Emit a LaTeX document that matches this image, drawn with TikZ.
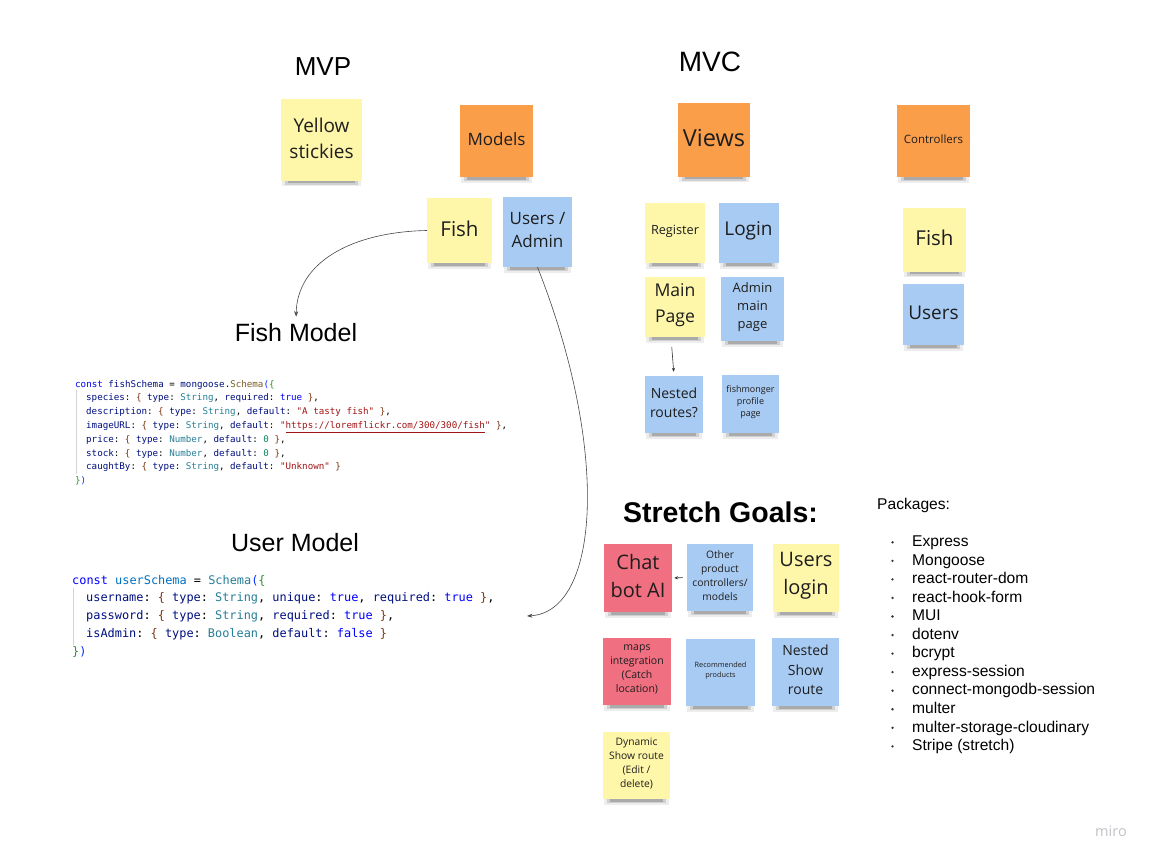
\documentclass[tikz,border=0pt]{standalone}
\usepackage{fontspec}
\setmainfont{Open Sans}
\setmonofont{DejaVu Sans Mono}
\newfontfamily\arialf{Liberation Sans}
\newfontfamily\osans{Open Sans}
\usetikzlibrary{arrows.meta}
\definecolor{stY}{HTML}{FEF6A9}
\definecolor{stO}{HTML}{FB9E4A}
\definecolor{stB}{HTML}{A8CBF3}
\definecolor{stR}{HTML}{F06F80}
\definecolor{stText}{HTML}{1E1E1E}
\definecolor{cKw}{HTML}{0000FF}
\definecolor{cVr}{HTML}{001080}
\definecolor{cFn}{HTML}{795E26}
\definecolor{cTy}{HTML}{267F99}
\definecolor{cSt}{HTML}{A31515}
\definecolor{cNm}{HTML}{098658}
\definecolor{cBa}{HTML}{0431FA}
\definecolor{cBb}{HTML}{319331}
\definecolor{cBc}{HTML}{7B3814}
\definecolor{cUv}{HTML}{0070C1}
\definecolor{guideC}{HTML}{D4D4D4}
\definecolor{miroC}{HTML}{C2C2C8}
\newcommand\stfont[2]{\osans\fontsize{#1}{#2}\selectfont}
\newcommand\tifont[2]{\arialf\fontsize{#1}{#2}\selectfont}
\newcommand\cdfont[2]{\ttfamily\fontsize{#1}{#2}\selectfont}
\newcommand\ckw[1]{\textcolor{cKw}{#1}}
\newcommand\cvr[1]{\textcolor{cVr}{#1}}
\newcommand\cfn[1]{\textcolor{cFn}{#1}}
\newcommand\cty[1]{\textcolor{cTy}{#1}}
\newcommand\cst[1]{\textcolor{cSt}{#1}}
\newcommand\cnm[1]{\textcolor{cNm}{#1}}
\newcommand\cba[1]{\textcolor{cBa}{#1}}
\newcommand\cbb[1]{\textcolor{cBb}{#1}}
\newcommand\cbc[1]{\textcolor{cBc}{#1}}
\newcommand\cuv[1]{\textcolor{cUv}{#1}}
% sticky note: name, cx, cy, w, h, colour, font, text
\newcommand\stickynote[8]{%
  \fill[black,opacity=.07] ({#2-#4/2+1},{#3+#5/2-3}) rectangle ({#2+#4/2-1},{#3+#5/2+5.5});
  \fill[black,opacity=.12] ({#2-#4/2+4},{#3+#5/2-3}) rectangle ({#2+#4/2-4},{#3+#5/2+4});
  \fill[black,opacity=.18] ({#2-#4/2+7},{#3+#5/2-3}) rectangle ({#2+#4/2-7},{#3+#5/2+2.5});
  \node[stickybox, fill=#6, minimum width=#4pt, minimum height=#5pt] (#1) at (#2,#3) {};
  \node[stickytext, font=#7] (#1-t) at ([yshift=2pt]#1.center) {#8};%
}
\tikzset{
  stickybox/.style={rectangle, inner sep=0pt},
  stickytext/.style={inner sep=1pt, align=center, text=stText},
  title/.style={inner sep=0pt, anchor=base, text=black},
  codeline/.style={inner sep=0pt, anchor=base west},
  pkg/.style={inner sep=0pt, anchor=base west, font=\tifont{15.6}{18}, text=black},
  conn/.style={draw=black!72, line width=0.6pt, -{Stealth[length=5.5pt,width=4pt]}},
  shortconn/.style={draw=black!80, line width=0.6pt, -{Stealth[length=4pt,width=3.2pt]}},
  guide/.style={draw=guideC, line width=0.7pt}
}
\begin{document}
\begin{tikzpicture}[x=1pt,y=-1pt]
\fill[white] (0,0) rectangle (1156,864);
\useasboundingbox (0,0) rectangle (1156,864);

% titles
\node[title, font=\tifont{26}{30}] (mvp) at (323,75.5) {MVP};
\node[title, font=\tifont{28}{32}] (mvc) at (710,72) {MVC};
\node[title, font=\tifont{25}{29}] (fishmodel) at (296,341) {Fish Model};
\node[title, font=\tifont{25}{29}] (usermodel) at (295,551) {User Model};
\node[title, font=\tifont{28.5}{32}\bfseries] (stretch) at (720.5,522) {Stretch Goals:};

% sticky notes
\stickynote{yst}{321.5}{140}{81}{81}{stY}{\stfont{19}{26}}{Yellow\\stickies}
\stickynote{models}{496.5}{141}{73}{72}{stO}{\stfont{17}{23}}{Models}
\stickynote{fish}{459.5}{230.5}{65}{65}{stY}{\stfont{20.5}{27}}{Fish}
\stickynote{usad}{537.5}{232}{69}{70}{stB}{\stfont{17}{23}}{Users /\\Admin}
\stickynote{views}{714}{140}{72}{73}{stO}{\stfont{23.5}{30}}{Views}
\stickynote{ctrls}{933.5}{141}{73}{72}{stO}{\stfont{11.5}{15}}{Controllers}
\stickynote{cfish}{934.5}{239.5}{63}{64}{stY}{\stfont{20.5}{27}}{Fish}
\stickynote{cusers}{933.5}{314.5}{61}{61}{stB}{\stfont{19}{26}}{Users}
\stickynote{register}{675}{233}{60}{60}{stY}{\stfont{12.7}{17}}{Register}
\stickynote{login}{748.5}{233}{60}{60}{stB}{\stfont{19}{26}}{Login}
\stickynote{mainpage}{675}{307}{60}{60}{stY}{\stfont{17.6}{25.5}}{Main\\Page}
\stickynote{adminmain}{752.5}{309}{63}{64}{stB}{\stfont{13}{18.3}}{Admin\\main\\page}
\stickynote{nested}{674}{404.5}{58}{57}{stB}{\stfont{14}{19}}{Nested\\routes?}
\stickynote{fishmonger}{750.5}{404}{57}{58}{stB}{\stfont{9}{12.3}}{fishmonger\\profile\\page}
\stickynote{chat}{638}{578}{68}{68}{stR}{\stfont{20}{28}}{Chat\\bot AI}
\stickynote{other}{720}{577.5}{66}{67}{stB}{\stfont{10.3}{14}}{Other\\product\\controllers/\\models}
\stickynote{userslogin}{806}{578}{66}{68}{stY}{\stfont{20}{28}}{Users\\login}
\stickynote{maps}{637}{671.5}{68}{67}{stR}{\stfont{10.5}{14}}{maps\\integration\\(Catch\\location)}
\stickynote{recommended}{720.5}{672.5}{69}{67}{stB}{\stfont{7.3}{10}}{Recommended\\products}
\stickynote{nestedshow}{805.5}{672}{67}{68}{stB}{\stfont{14}{19.3}}{Nested\\Show\\route}
\stickynote{dynamic}{636.5}{765.5}{67}{67}{stY}{\stfont{10.3}{14}}{Dynamic\\Show route\\(Edit /\\delete)}

% fish schema code
\draw[guide] (76,390) -- (76,474);
\node[codeline, font=\cdfont{9.2}{11}] (f1) at (75,387) {\ckw{const} \cvr{fishSchema} = \cvr{mongoose}.\cfn{Schema}\cba{(}\cbb{\{}};
\node[codeline, font=\cdfont{9.2}{11}] (f2) at (86,400.8) {\cvr{species}: \cbc{\{} \cvr{type}: \cty{String}, \cvr{required}: \ckw{true} \cbc{\}},};
\node[codeline, font=\cdfont{9.2}{11}] (f3) at (86,414.6) {\cvr{description}: \cbc{\{} \cvr{type}: \cty{String}, \cvr{default}: \cst{"A tasty fish"} \cbc{\}},};
\node[codeline, font=\cdfont{9.2}{11}] (f4) at (86,428.4) {\cvr{imageURL}: \cbc{\{} \cvr{type}: \cty{String}, \cvr{default}: \cst{"\underline{https://loremflickr.com/300/300/fish}"} \cbc{\}},};
\node[codeline, font=\cdfont{9.2}{11}] (f5) at (86,442.2) {\cvr{price}: \cbc{\{} \cvr{type}: \cty{Number}, \cvr{default}: \cnm{0} \cbc{\}},};
\node[codeline, font=\cdfont{9.2}{11}] (f6) at (86,456) {\cvr{stock}: \cbc{\{} \cvr{type}: \cty{Number}, \cvr{default}: \cnm{0} \cbc{\}},};
\node[codeline, font=\cdfont{9.2}{11}] (f7) at (86,469.8) {\cvr{caughtBy}: \cbc{\{} \cvr{type}: \cty{String}, \cvr{default}: \cst{"Unknown"} \cbc{\}}};
\node[codeline, font=\cdfont{9.2}{11}] (f8) at (75,483.6) {\cbb{\}}\cba{)}};

% user schema code
\draw[guide] (73,588) -- (73,645);
\node[codeline, font=\cdfont{11.9}{14}] (u1) at (72,584) {\ckw{const} \cuv{userSchema} = \cty{Schema}\cba{(}\cbb{\{}};
\node[codeline, font=\cdfont{11.9}{14}] (u2) at (86,601.8) {\cvr{username}: \cbc{\{} \cvr{type}: \cty{String}, \cvr{unique}: \ckw{true}, \cvr{required}: \ckw{true} \cbc{\}},};
\node[codeline, font=\cdfont{11.9}{14}] (u3) at (86,619.6) {\cvr{password}: \cbc{\{} \cvr{type}: \cty{String}, \cvr{required}: \ckw{true} \cbc{\}},};
\node[codeline, font=\cdfont{11.9}{14}] (u4) at (86,637.4) {\cvr{isAdmin}: \cbc{\{} \cvr{type}: \cty{Boolean}, \cvr{default}: \ckw{false} \cbc{\}}};
\node[codeline, font=\cdfont{11.9}{14}] (u5) at (72,655.2) {\cbb{\}}\cba{)}};

% packages
\node[pkg] (pkgs) at (877,509.5) {Packages:};
\foreach \t [count=\i from 0] in {Express,Mongoose,react-router-dom,react-hook-form,MUI,dotenv,bcrypt,express-session,connect-mongodb-session,multer,multer-storage-cloudinary,Stripe (stretch)}{
  \node[pkg] (pk\i) at (912,{546.5+18.55*\i}) {\t};
  \fill[black!80] (892.5,{542.3+18.55*\i}) circle (1.3);
}

% connectors
\coordinate (uend) at (527,616);
\draw[conn, shorten >=6pt] (fish.west) .. controls (352,232) and (297,262) .. (fishmodel.north);
\draw[conn] (usad.south) .. controls (610,450) and (600,612) .. (uend);
\draw[shortconn, shorten <=10pt, shorten >=4pt] ([xshift=-4pt]mainpage.south) -- (nested.north);
\draw[shortconn, shorten <=4pt, shorten >=2pt] (other.west) -- (chat.east);

% watermark
\node[inner sep=0pt, font=\stfont{14.5}{16}, text=miroC] (miro) at (1111,831) {miro};
\end{tikzpicture}
\end{document}
